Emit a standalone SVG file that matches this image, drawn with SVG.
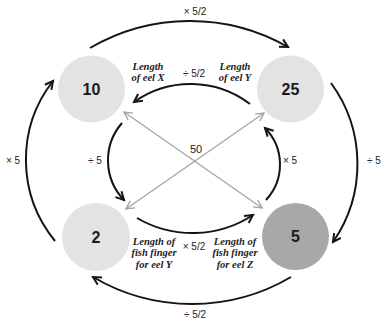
<svg xmlns="http://www.w3.org/2000/svg" width="381" height="323" viewBox="0 0 381 323">
  <style>
    .node { fill: #e3e3e3; }
    .node.dark { fill: #a8a8a8; }
    .num { font-family: "Liberation Sans", Arial, sans-serif; font-weight: bold; font-size: 16px; fill: #1a1a1a; text-anchor: middle; }
    .op { font-family: "Liberation Sans", Arial, sans-serif; font-size: 10px; fill: #222; text-anchor: middle; }
    .desc { font-family: "Liberation Serif", "Times New Roman", serif; font-style: italic; font-weight: bold; font-size: 10.5px; fill: #222; text-anchor: middle; }
    .arc { fill: none; stroke: #141414; stroke-width: 2; marker-end: url(#ah); }
    .diag { fill: none; stroke: #a3a3a3; stroke-width: 1.3; marker-start: url(#gh); marker-end: url(#gh); }
  </style>
  <defs>
    <marker id="ah" markerWidth="14" markerHeight="14" refX="9" refY="5" orient="auto" markerUnits="userSpaceOnUse">
      <path d="M1,0.8 L9,5 L1,9.2" fill="none" stroke="#141414" stroke-width="2"/>
    </marker>
    <marker id="gh" markerWidth="14" markerHeight="14" refX="9" refY="5" orient="auto-start-reverse" markerUnits="userSpaceOnUse">
      <path d="M1,0.8 L9,5 L1,9.2" fill="none" stroke="#a3a3a3" stroke-width="1.4"/>
    </marker>
  </defs>

  <g id="connectors">
    <!-- outer clockwise cycle -->
    <path class="arc" d="M90,48 A198,198 0 0 1 288,47"/>
    <path class="arc" d="M331,83 A137,137 0 0 1 333,242"/>
    <path class="arc" d="M291,277 A195,195 0 0 1 93,277"/>
    <path class="arc" d="M55,241 A128,128 0 0 1 53,81"/>
    <!-- inner counter-clockwise cycle -->
    <path class="arc" d="M250,104 A98,98 0 0 0 134,102"/>
    <path class="arc" d="M122,123 A57,57 0 0 0 124,200"/>
    <path class="arc" d="M137,218 A110,110 0 0 0 253,215"/>
    <path class="arc" d="M266,200 A52,52 0 0 0 265,128"/>
    <!-- diagonals -->
    <path class="diag" d="M124,112 L262,208"/>
    <path class="diag" d="M264,113 L126,209"/>

    <text class="op" x="195" y="15">× 5/2</text>
    <text class="op" x="374" y="164">÷ 5</text>
    <text class="op" x="195" y="318">÷ 5/2</text>
    <text class="op" x="13" y="164">× 5</text>
    <text class="op" x="194" y="77">÷ 5/2</text>
    <text class="op" x="95" y="164">÷ 5</text>
    <text class="op" x="194" y="250">× 5/2</text>
    <text class="op" x="290" y="164">× 5</text>
    <text class="op" x="196" y="153" style="font-size:11px">50</text>
  </g>

  <g id="node-10">
    <circle class="node" cx="91.5" cy="89" r="33.5"/>
    <text class="num" x="91.5" y="94.5">10</text>
  </g>
  <g id="node-25">
    <circle class="node" cx="290.5" cy="89" r="33.5"/>
    <text class="num" x="290.5" y="94.5">25</text>
  </g>
  <g id="node-2">
    <circle class="node" cx="96" cy="237" r="34"/>
    <text class="num" x="96" y="242.5">2</text>
  </g>
  <g id="node-5">
    <circle class="node dark" cx="295.5" cy="236.5" r="33.5"/>
    <text class="num" x="295.5" y="242">5</text>
  </g>

  <g id="label-eel-x">
    <text class="desc" x="148" y="69.5">Length</text>
    <text class="desc" x="148" y="80.5">of eel X</text>
  </g>
  <g id="label-eel-y">
    <text class="desc" x="235" y="69.5">Length</text>
    <text class="desc" x="235" y="80.5">of eel Y</text>
  </g>
  <g id="label-finger-y">
    <text class="desc" x="154" y="244.5">Length of</text>
    <text class="desc" x="154" y="256">fish finger</text>
    <text class="desc" x="154" y="267.5">for eel Y</text>
  </g>
  <g id="label-finger-z">
    <text class="desc" x="235" y="244.5">Length of</text>
    <text class="desc" x="235" y="256">fish finger</text>
    <text class="desc" x="235" y="267.5">for eel Z</text>
  </g>
</svg>
